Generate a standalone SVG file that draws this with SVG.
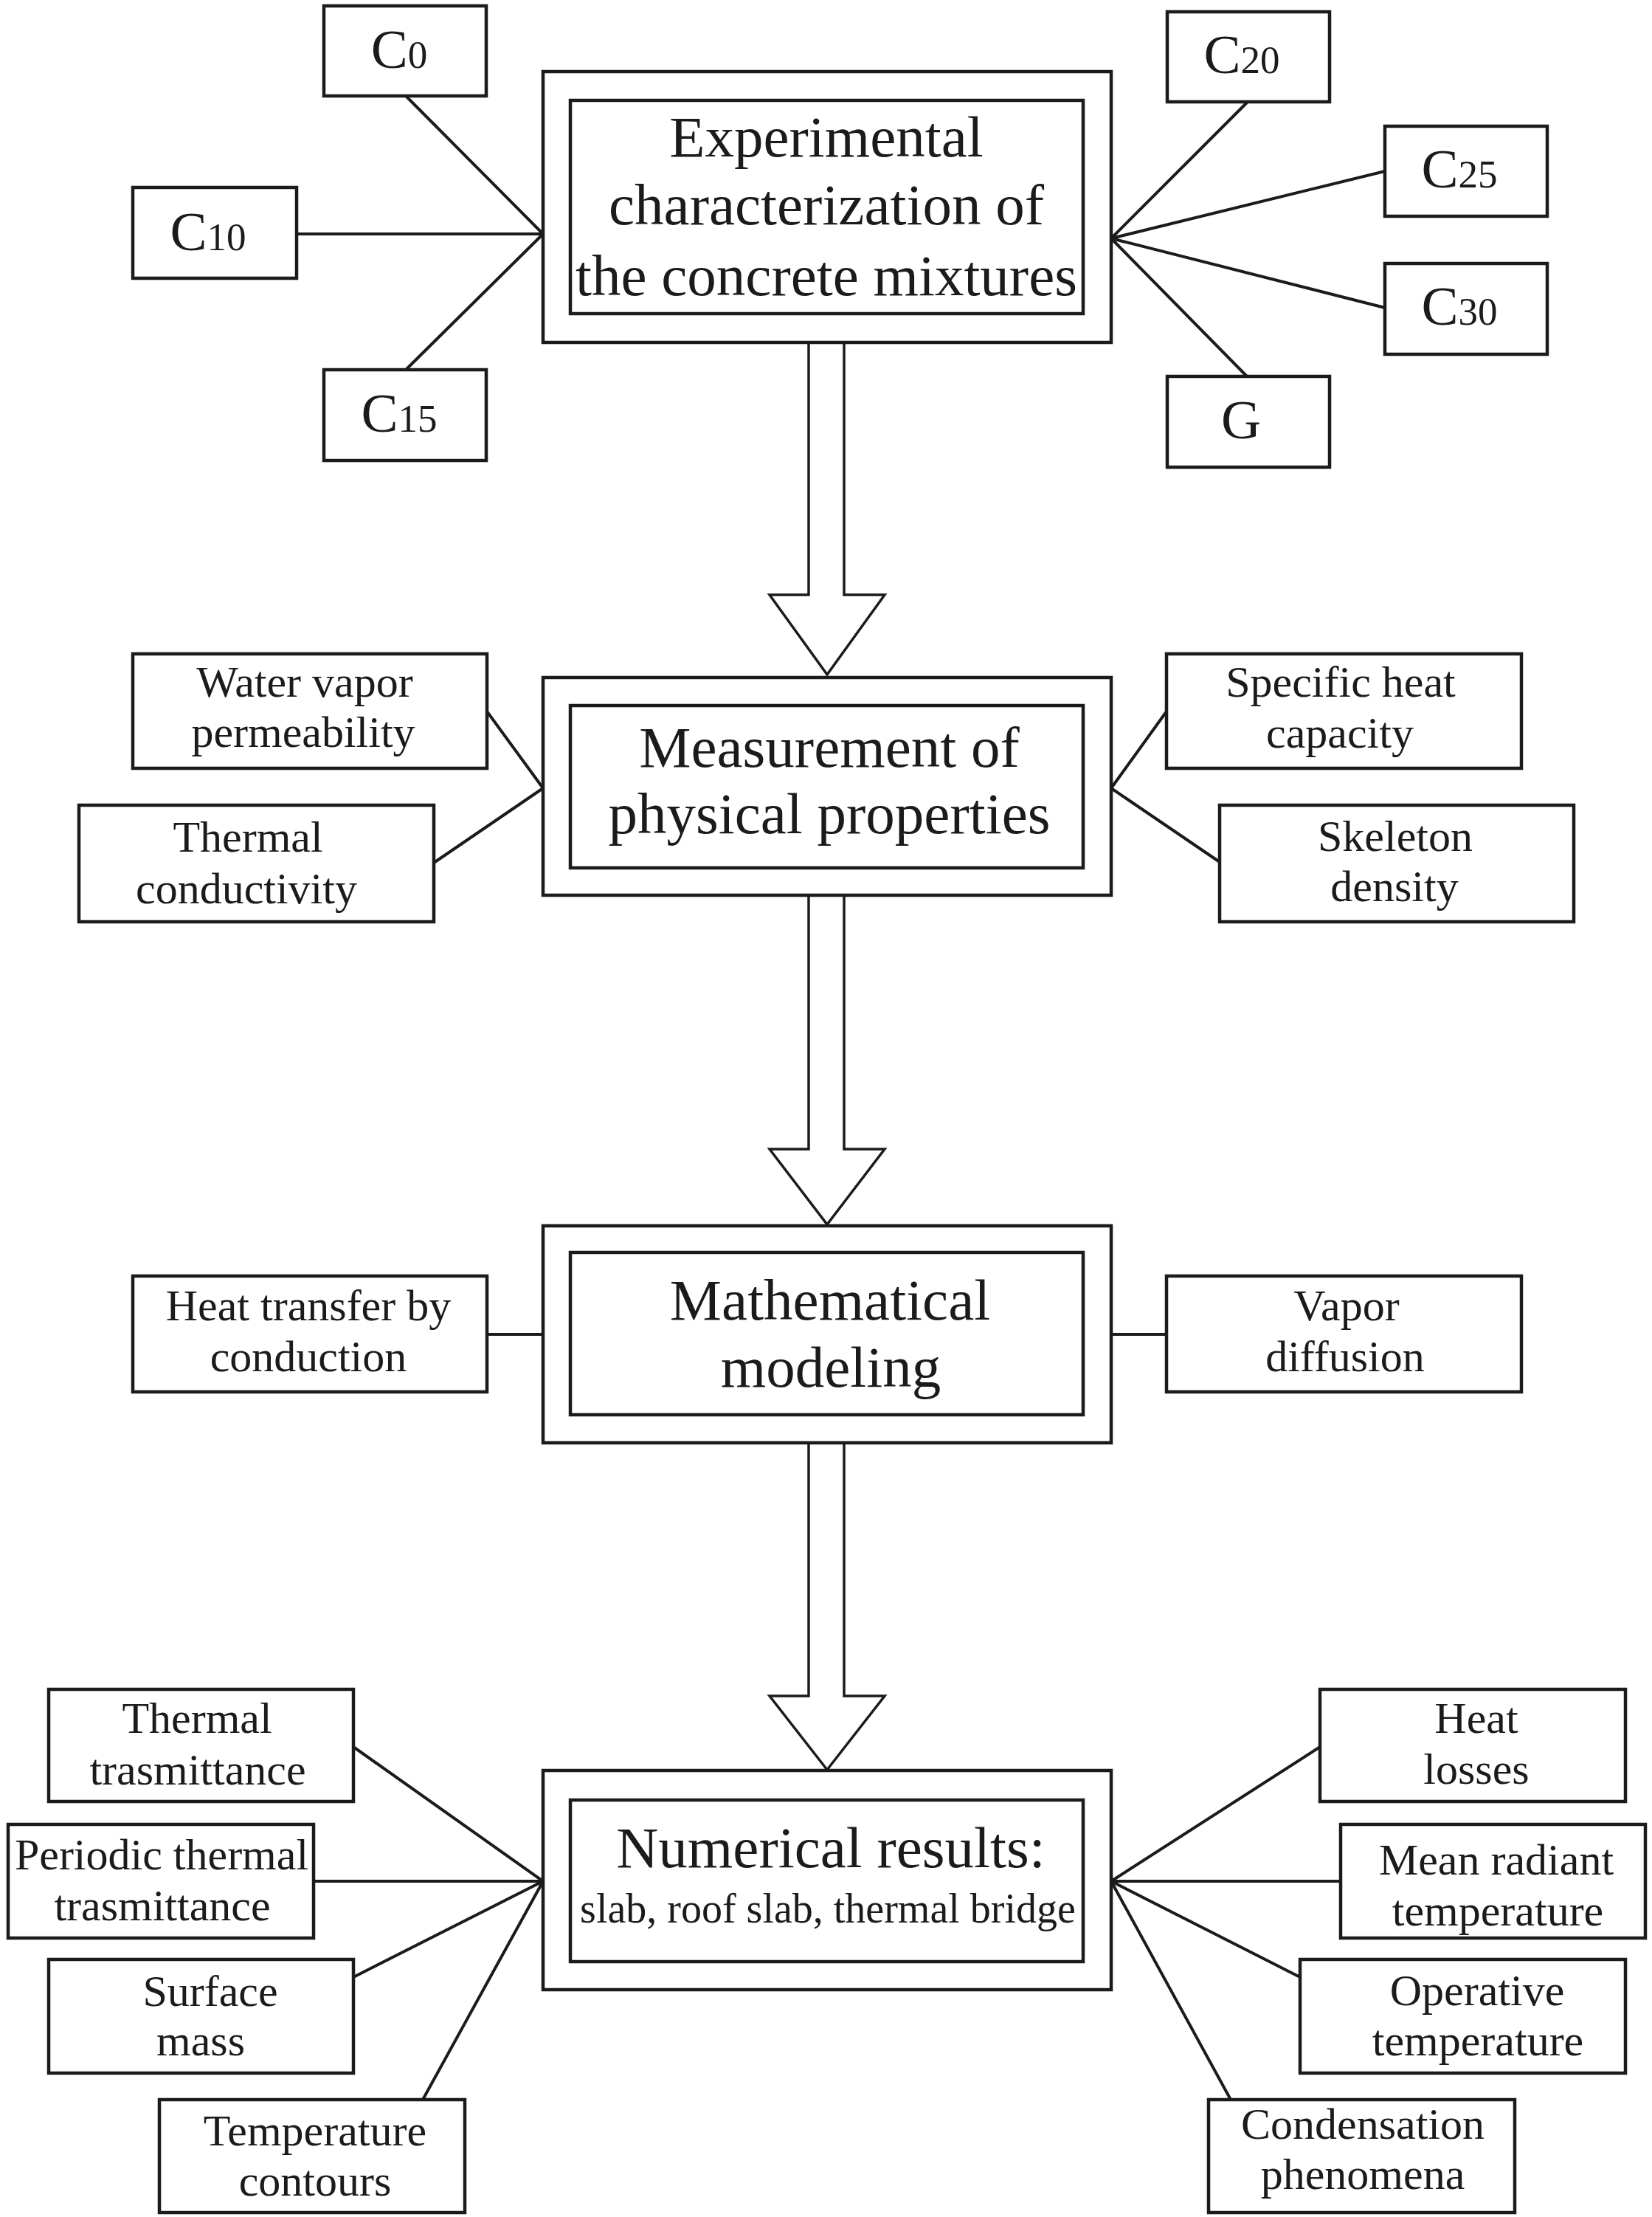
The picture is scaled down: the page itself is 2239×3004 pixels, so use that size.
<svg xmlns="http://www.w3.org/2000/svg" width="2239" height="3004" viewBox="0 0 2239 3004">
<style>
  .bx { fill: #ffffff; stroke: #1c1a1a; stroke-width: 4.5; }
  .ln { fill: none; stroke: #1c1a1a; stroke-width: 4; }
  .ar { fill: #ffffff; stroke: #1c1a1a; stroke-width: 3.5; stroke-linejoin: miter; }
  text { font-family: "Liberation Serif", "Times New Roman", serif; fill: #1c1a1a; text-anchor: middle; }
  .t { font-size: 79px; }
  .s { font-size: 60px; }
  .u { font-size: 56px; }
  .c { font-size: 75px; }
  .d { font-size: 53px; }
</style>
<rect x="0" y="0" width="2239" height="3004" fill="#ffffff"/>

<g id="connectors">
  <!-- top fan -->
  <line class="ln" x1="550" y1="130" x2="736" y2="317"/>
  <line class="ln" x1="402" y1="317" x2="736" y2="317"/>
  <line class="ln" x1="550" y1="501" x2="736" y2="317"/>
  <line class="ln" x1="1506" y1="323" x2="1690" y2="139"/>
  <line class="ln" x1="1506" y1="323" x2="1877" y2="232"/>
  <line class="ln" x1="1506" y1="323" x2="1877" y2="417"/>
  <line class="ln" x1="1506" y1="323" x2="1690" y2="510"/>
  <!-- measurement fan -->
  <line class="ln" x1="660" y1="964" x2="736" y2="1068"/>
  <line class="ln" x1="588" y1="1169" x2="736" y2="1068"/>
  <line class="ln" x1="1506" y1="1068" x2="1581" y2="964"/>
  <line class="ln" x1="1506" y1="1068" x2="1653" y2="1168"/>
  <!-- math -->
  <line class="ln" x1="660" y1="1808" x2="736" y2="1808"/>
  <line class="ln" x1="1506" y1="1808" x2="1581" y2="1808"/>
  <!-- numerical fan -->
  <line class="ln" x1="479" y1="2367" x2="736" y2="2549"/>
  <line class="ln" x1="425" y1="2549" x2="736" y2="2549"/>
  <line class="ln" x1="479" y1="2679" x2="736" y2="2549"/>
  <line class="ln" x1="573" y1="2845" x2="736" y2="2549"/>
  <line class="ln" x1="1506" y1="2549" x2="1789" y2="2367"/>
  <line class="ln" x1="1506" y1="2549" x2="1817" y2="2549"/>
  <line class="ln" x1="1506" y1="2549" x2="1762" y2="2679"/>
  <line class="ln" x1="1506" y1="2549" x2="1668" y2="2845"/>
  <!-- block arrows -->
  <path class="ar" d="M1096,464 L1096,806 L1043,806 L1121,914 L1199,806 L1144,806 L1144,464"/>
  <path class="ar" d="M1096,1213 L1096,1557 L1043,1557 L1121,1659 L1199,1557 L1144,1557 L1144,1213"/>
  <path class="ar" d="M1096,1955 L1096,2298 L1043,2298 L1121,2398 L1199,2298 L1144,2298 L1144,1955"/>
</g>

<g id="n-experimental">
  <rect class="bx" x="736" y="97" width="770" height="367"/>
  <rect class="bx" x="773" y="136" width="695" height="289"/>
  <text class="t" x="1120" y="212">Experimental</text>
  <text class="t" x="1120" y="304">characterization of</text>
  <text class="t" x="1120" y="400">the concrete mixtures</text>
</g>

<g id="n-c0"><rect class="bx" x="439" y="8" width="220" height="122"/><text class="c" x="541" y="92">C<tspan class="d">0</tspan></text></g>
<g id="n-c10"><rect class="bx" x="180" y="254" width="222" height="123"/><text class="c" x="282" y="339">C<tspan class="d">10</tspan></text></g>
<g id="n-c15"><rect class="bx" x="439" y="501" width="220" height="123"/><text class="c" x="541" y="585">C<tspan class="d">15</tspan></text></g>
<g id="n-c20"><rect class="bx" x="1582" y="16" width="220" height="122"/><text class="c" x="1683" y="99">C<tspan class="d">20</tspan></text></g>
<g id="n-c25"><rect class="bx" x="1877" y="171" width="220" height="122"/><text class="c" x="1978" y="254">C<tspan class="d">25</tspan></text></g>
<g id="n-c30"><rect class="bx" x="1877" y="357" width="220" height="123"/><text class="c" x="1978" y="440">C<tspan class="d">30</tspan></text></g>
<g id="n-g"><rect class="bx" x="1582" y="510" width="220" height="123"/><text class="c" x="1682" y="594">G</text></g>

<g id="n-measurement">
  <rect class="bx" x="736" y="918" width="770" height="295"/>
  <rect class="bx" x="773" y="956" width="695" height="220"/>
  <text class="t" x="1124" y="1039">Measurement of</text>
  <text class="t" x="1124" y="1129">physical properties</text>
</g>
<g id="n-water-vapor"><rect class="bx" x="180" y="886" width="480" height="155"/><text class="s" x="413" y="944">Water vapor</text><text class="s" x="411" y="1012">permeability</text></g>
<g id="n-thermal-conductivity"><rect class="bx" x="107" y="1091" width="481" height="158"/><text class="s" x="336" y="1154">Thermal</text><text class="s" x="334" y="1224">conductivity</text></g>
<g id="n-specific-heat"><rect class="bx" x="1581" y="886" width="481" height="155"/><text class="s" x="1817" y="944">Specific heat</text><text class="s" x="1816" y="1013">capacity</text></g>
<g id="n-skeleton-density"><rect class="bx" x="1653" y="1091" width="480" height="158"/><text class="s" x="1891" y="1153">Skeleton</text><text class="s" x="1890" y="1221">density</text></g>

<g id="n-math">
  <rect class="bx" x="736" y="1661" width="770" height="294"/>
  <rect class="bx" x="773" y="1697" width="695" height="220"/>
  <text class="t" x="1125" y="1788">Mathematical</text>
  <text class="t" x="1126" y="1879">modeling</text>
</g>
<g id="n-heat-transfer"><rect class="bx" x="180" y="1729" width="480" height="157"/><text class="s" x="418" y="1789">Heat transfer by</text><text class="s" x="418" y="1858">conduction</text></g>
<g id="n-vapor-diffusion"><rect class="bx" x="1581" y="1729" width="481" height="157"/><text class="s" x="1825" y="1789">Vapor</text><text class="s" x="1823" y="1858">diffusion</text></g>

<g id="n-numerical">
  <rect class="bx" x="736" y="2399" width="770" height="297"/>
  <rect class="bx" x="773" y="2439" width="695" height="219"/>
  <text class="t" x="1126" y="2530">Numerical results:</text>
  <text class="u" x="1122" y="2605">slab, roof slab, thermal bridge</text>
</g>
<g id="n-thermal-trasmittance"><rect class="bx" x="66" y="2289" width="413" height="152"/><text class="s" x="267" y="2348">Thermal</text><text class="s" x="268" y="2418">trasmittance</text></g>
<g id="n-periodic"><rect class="bx" x="11" y="2472" width="414" height="154"/><text class="s" x="219" y="2533">Periodic thermal</text><text class="s" x="220" y="2602">trasmittance</text></g>
<g id="n-surface-mass"><rect class="bx" x="66" y="2655" width="413" height="154"/><text class="s" x="285" y="2718">Surface</text><text class="s" x="272" y="2785">mass</text></g>
<g id="n-temperature-contours"><rect class="bx" x="216" y="2845" width="414" height="153"/><text class="s" x="427" y="2907">Temperature</text><text class="s" x="427" y="2975">contours</text></g>
<g id="n-heat-losses"><rect class="bx" x="1789" y="2289" width="414" height="152"/><text class="s" x="2001" y="2348">Heat</text><text class="s" x="2001" y="2417">losses</text></g>
<g id="n-mean-radiant"><rect class="bx" x="1817" y="2472" width="413" height="154"/><text class="s" x="2028" y="2540">Mean radiant</text><text class="s" x="2030" y="2609">temperature</text></g>
<g id="n-operative"><rect class="bx" x="1762" y="2655" width="441" height="154"/><text class="s" x="2002" y="2717">Operative</text><text class="s" x="2003" y="2785">temperature</text></g>
<g id="n-condensation"><rect class="bx" x="1638" y="2845" width="415" height="153"/><text class="s" x="1847" y="2898">Condensation</text><text class="s" x="1847" y="2966">phenomena</text></g>
</svg>
